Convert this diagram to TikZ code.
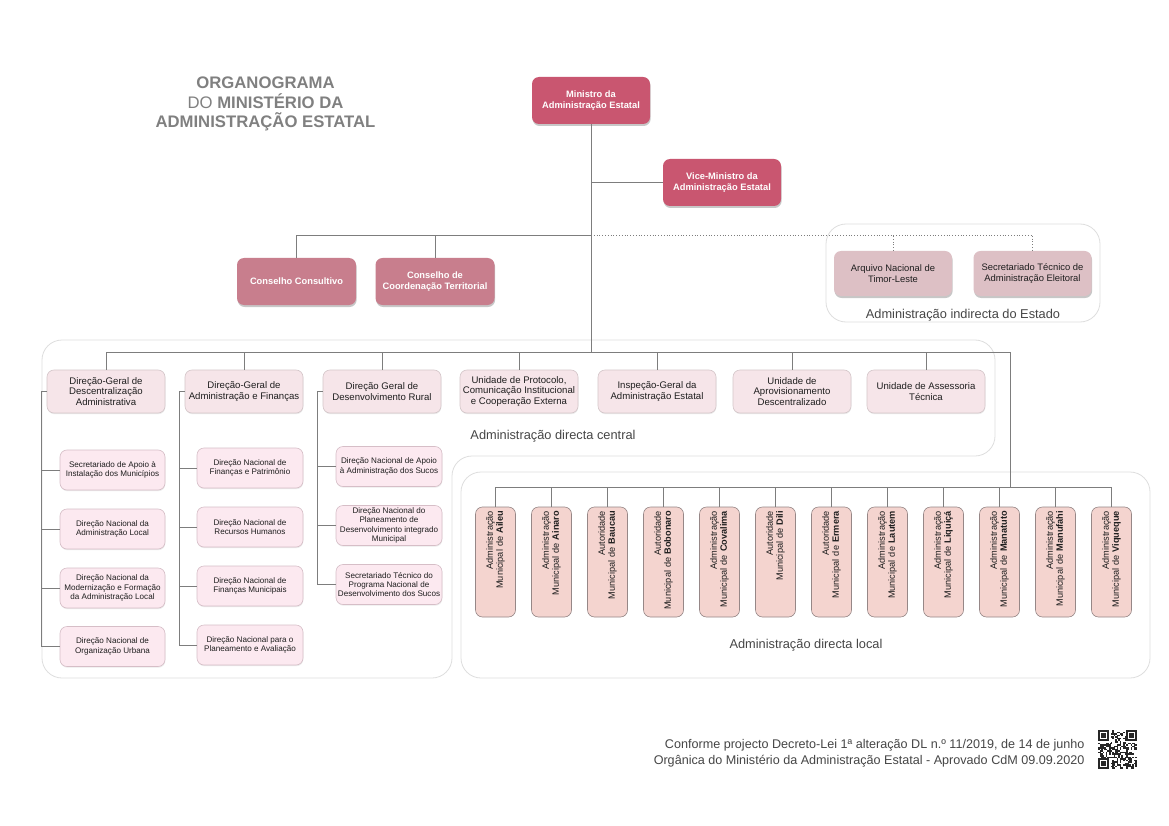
\documentclass[tikz,border=0pt]{standalone}
\usepackage{fontspec}
\setmainfont{Liberation Sans}
\usetikzlibrary{shadows}
\definecolor{minC}{RGB}{201,86,112}
\definecolor{consC}{RGB}{200,126,141}
\definecolor{indC}{RGB}{221,192,197}
\definecolor{rowC}{RGB}{246,229,233}
\definecolor{rowB}{RGB}{212,198,201}
\definecolor{subC}{RGB}{252,233,240}
\definecolor{subB}{RGB}{214,190,199}
\definecolor{munC}{RGB}{244,212,207}
\definecolor{munB}{RGB}{150,135,135}
\definecolor{lineC}{RGB}{125,125,125}
\definecolor{contB}{RGB}{222,222,222}
\definecolor{titleC}{RGB}{128,128,128}
\definecolor{labC}{RGB}{70,70,70}
\definecolor{txtC}{RGB}{30,30,30}
\begin{document}
\begin{tikzpicture}[x=1pt,y=-1pt,
  conn/.style={draw=lineC, line width=0.8pt},
  dconn/.style={draw=lineC, line width=0.8pt, dotted},
  cont/.style={draw=contB, line width=0.8pt, rounded corners=20pt},
  shad/.style={drop shadow={shadow xshift=0.6pt, shadow yshift=-2pt, opacity=0.22, fill=black}},
  lshad/.style={drop shadow={shadow xshift=0.4pt, shadow yshift=-1.2pt, opacity=0.08, fill=black}},
  topbox/.style={shad, fill=minC, rounded corners=7pt, text=white, align=center,
    font=\bfseries\fontsize{9.3}{10.8}\selectfont, minimum width=118pt, minimum height=47pt, inner sep=1pt},
  consbox/.style={topbox, fill=consC, minimum width=119pt},
  indbox/.style={shad, fill=indC, rounded corners=7pt, text=txtC, align=center,
    font=\fontsize{9.4}{10.8}\selectfont, minimum width=118pt, minimum height=45pt, inner sep=1pt},
  rowbox/.style={lshad, fill=rowC, draw=rowB, line width=0.6pt, rounded corners=7pt, text=txtC, align=center,
    font=\fontsize{9.6}{10.6}\selectfont, minimum width=118pt, minimum height=43pt, inner sep=1pt},
  subbox/.style={lshad, fill=subC, draw=subB, line width=0.6pt, rounded corners=7pt, text=txtC, align=center,
    font=\fontsize{8.1}{9.3}\selectfont, minimum width=106pt, minimum height=40pt, inner sep=1pt},
  munbox/.style={fill=munC, draw=munB, line width=0.6pt, rounded corners=7pt, text=txtC, align=right,
    font=\fontsize{9.2}{10.2}\selectfont, minimum width=110pt, minimum height=40pt, text width=102pt,
    inner xsep=4pt, inner ysep=1pt, rotate=90},
  lab/.style={text=labC, font=\fontsize{12.8}{14}\selectfont}
]
\useasboundingbox[fill=white] (0,0) rectangle (1169,826);

% containers
\draw[cont] (42,340) -- (995,340) -- (995,456) -- (452,456) -- (452,678) -- (42,678) -- cycle;
\draw[cont] (461,472) rectangle (1150,678);
\draw[cont] (826,224) rectangle (1100,322);
\node[lab] (labind) at (963,315) {Administração indirecta do Estado};
\node[lab] (labcen) at (553,436) {Administração directa central};
\node[lab] (labloc) at (806,645) {Administração directa local};

% title
\node[text=titleC, align=center, font=\bfseries\fontsize{16.7}{19.3}\selectfont] (title) at (265.5,104)
  {ORGANOGRAMA\\{\mdseries DO} MINISTÉRIO DA\\ADMINISTRAÇÃO ESTATAL};

% coordinates
\coordinate (J) at (591,235);
\coordinate (C) at (591,352);
\coordinate (R) at (1010,352);
\coordinate (L) at (1010,487);

% top boxes
\node[topbox] (min) at (591,100.5) {Ministro da\\Administração Estatal};
\node[topbox] (vice) at (722,182.5) {Vice-Ministro da\\Administração Estatal};
\node[consbox] (cc) at (296.5,281.5) {Conselho Consultivo};
\node[consbox] (ct) at (435,281.5) {Conselho de\\Coordenação Territorial};
\node[indbox] (an) at (893,273.5) {Arquivo Nacional de\\Timor-Leste};
\node[indbox] (st) at (1032.5,273.5) {Secretariado Técnico de\\Administração Eleitoral};

\draw[conn] (min.south) -- (C);
\draw[conn] (vice.west) -- (vice.west -| min.south);
\draw[conn] (cc.north) |- (J);
\draw[conn] (ct.north) -- (ct.north |- J);
\draw[dconn] (J) -| (st.north);
\draw[dconn] (an.north) -- (an.north |- J);

% central row
\node[rowbox] (d1) at (106,391.5) {Direção-Geral de\\Descentralização\\Administrativa};
\node[rowbox] (d2) at (244,391.5) {Direção-Geral de\\Administração e Finanças};
\node[rowbox] (d3) at (382,391.5) {Direção Geral de\\Desenvolvimento Rural};
\node[rowbox] (d4) at (519,391.5) {Unidade de Protocolo,\\Comunicação Institucional\\e Cooperação Externa};
\node[rowbox] (d5) at (657,391.5) {Inspeção-Geral da\\Administração Estatal};
\node[rowbox] (d6) at (792,391.5) {Unidade de\\Aprovisionamento\\Descentralizado};
\node[rowbox] (d7) at (926,391.5) {Unidade de Assessoria\\Técnica};
\draw[conn] (d1.north) |- (R);
\foreach \n in {d2,d3,d4,d5,d6,d7} \draw[conn] (\n.north) -- (\n.north |- R);
\draw[conn] (R) -- (L);

% column 1
\node[subbox, minimum width=105pt] (s11) at (112.5,470) {Secretariado de Apoio à\\Instalação dos Municípios};
\node[subbox, minimum width=105pt] (s12) at (112.5,529) {Direção Nacional da\\Administração Local};
\node[subbox, minimum width=105pt] (s13) at (112.5,588) {Direção Nacional da\\Modernização e Formação\\da Administração Local};
\node[subbox, minimum width=105pt] (s14) at (112.5,646.5) {Direção Nacional de\\Organização Urbana};
\coordinate (k1) at (41,391.5);
\draw[conn] (d1.west) -- (k1) |- (s14.west);
\foreach \n in {s11,s12,s13} \draw[conn] (k1 |- \n.west) -- (\n.west);

% column 2
\node[subbox] (s21) at (250,468) {Direção Nacional de\\Finanças e Patrimônio};
\node[subbox] (s22) at (250,527) {Direção Nacional de\\Recursos Humanos};
\node[subbox] (s23) at (250,586) {Direção Nacional de\\Finanças Municipais};
\node[subbox] (s24) at (250,645) {Direção Nacional para o\\Planeamento e Avaliação};
\coordinate (k2) at (179,391.5);
\draw[conn] (d2.west) -- (k2) |- (s24.west);
\foreach \n in {s21,s22,s23} \draw[conn] (k2 |- \n.west) -- (\n.west);

% column 3
\node[subbox] (s31) at (389,466.5) {Direção Nacional de Apoio\\à Administração dos Sucos};
\node[subbox] (s32) at (389,525.5) {Direção Nacional do\\Planeamento de\\Desenvolvimento integrado\\Municipal};
\node[subbox] (s33) at (389,584.5) {Secretariado Técnico do\\Programa Nacional de\\Desenvolvimento dos Sucos};
\coordinate (k3) at (317,391.5);
\draw[conn] (d3.west) -- (k3) |- (s33.west);
\foreach \n in {s31,s32} \draw[conn] (k3 |- \n.west) -- (\n.west);

% municipal
\foreach \i/\t/\m in {0/Administração/Aileu, 1/Administração/Ainaro, 2/Autoridade/Baucau,
  3/Autoridade/Bobonaro, 4/Administração/Covalima, 5/Autoridade/Dili, 6/Autoridade/Ermera,
  7/Administração/Lautem, 8/Administração/Liquiçá, 9/Administração/Manatuto,
  10/Administração/Manufahi, 11/Administração/Viqueque} {
  \node[munbox] (m\i) at ({495.5+56*\i},562) {\t\\Municipal de \textbf{\m}};
  \draw[conn] (m\i.east) -- (m\i.east |- L);
}
\draw[conn] (m0.east |- L) -- (m11.east |- L);

% footer
\node[anchor=east, align=right, text=labC, font=\fontsize{12.6}{16}\selectfont] (foot) at (1088,753)
  {Conforme projecto Decreto-Lei 1ª alteração DL n.º 11/2019, de 14 de junho\\
   Orgânica do Ministério da Administração Estatal - Aprovado CdM 09.09.2020};

% QR code
\begin{scope}[shift={(1098,730)}]
  \pgfmathsetseed{11}
  \foreach \i in {0,...,24} {
    \foreach \j in {0,...,24} {
      \pgfmathtruncatemacro{\r}{rnd<0.5}
      \ifnum\r=1 \fill[black!85] ({\i*1.56},{\j*1.56}) rectangle ++(1.6,1.6); \fi
    }
  }
  \foreach \px/\py in {0/0,28.08/0,0/28.08} {
    \fill[white] ({\px-0.1},{\py-0.1}) rectangle ({\px+12.5},{\py+12.5});
    \fill[black!85] (\px,\py) rectangle ({\px+10.92},{\py+10.92});
    \fill[white] ({\px+1.56},{\py+1.56}) rectangle ({\px+9.36},{\py+9.36});
    \fill[black!85] ({\px+3.12},{\py+3.12}) rectangle ({\px+7.8},{\py+7.8});
  }
\end{scope}
\end{tikzpicture}
\end{document}
